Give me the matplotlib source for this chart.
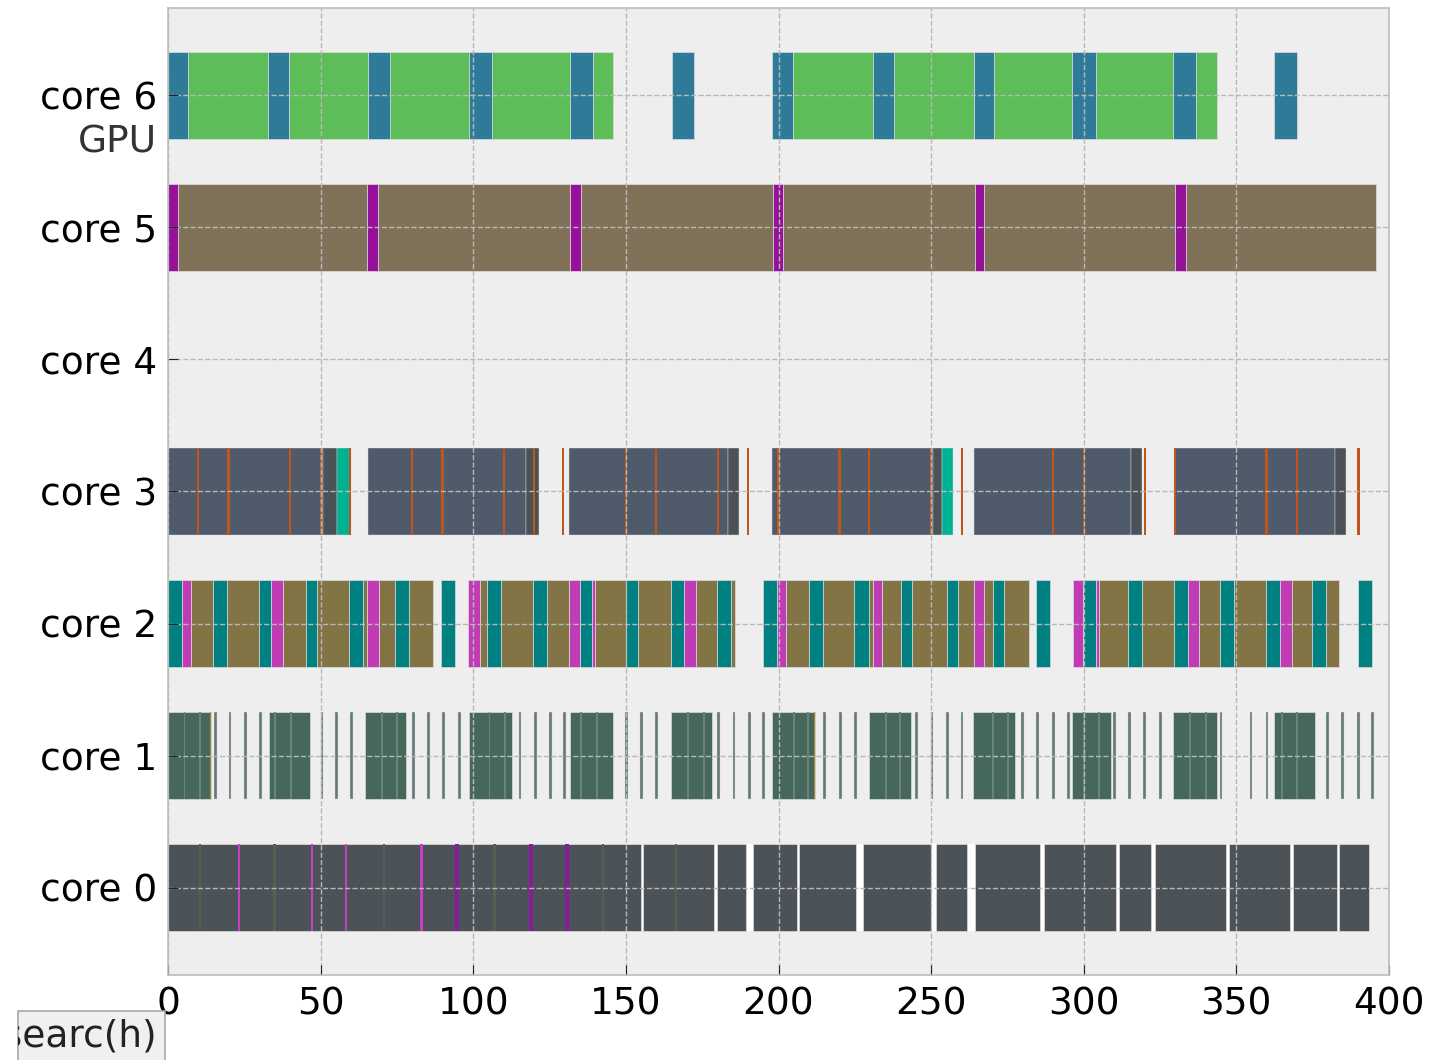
import matplotlib
matplotlib.use("Agg")
import matplotlib.pyplot as plt
from matplotlib.patches import Rectangle
from matplotlib.transforms import blended_transform_factory

plt.style.use("bmh")

core_labels = ["core 0", "core 1", "core 2", "core 3", "core 4", "core 5", "core 6"]

# core 6 (GPU): (start, duration)
gpu_copy = [(0, 6.4), (32.9, 6.8), (65.4, 7.3), (98.6, 7.4), (131.6, 7.5), (165.0, 7.3),
            (197.9, 6.9), (231.0, 6.7), (264.0, 6.6), (296.3, 7.6), (329.4, 7.4), (362.3, 7.5)]
gpu_kernel = [(6.4, 26.5), (39.7, 25.7), (72.7, 25.9), (106.0, 25.6), (139.1, 6.8),
              (204.8, 26.2), (237.7, 26.3), (270.6, 25.7), (303.9, 25.5), (336.8, 6.8)]

# core 5
c5_sync = [(0, 3.4), (65.2, 3.6), (131.7, 3.6), (198.2, 3.4), (264.4, 3.0), (329.9, 3.6)]
c5_main = [(3.4, 61.8), (68.8, 62.9), (135.3, 62.9), (201.6, 62.8), (267.4, 62.5), (333.5, 62.2)]

# core 3
c3_work = [(0, 50.6), (65.4, 51.8), (131.5, 51.8), (197.8, 52.9), (264.2, 51.2), (329.7, 52.6)]
c3_tail = [(50.6, 4.9), (117.2, 4.4), (183.3, 3.9), (250.7, 2.7), (315.4, 3.6), (382.3, 3.6)]
c3_flush = [(55.5, 4.3), (253.4, 3.9)]
c3_ticks = [9.9, 19.8, 40.0, 50.0, 59.7, 80.0, 89.9, 110.1, 119.9, 129.5, 150.0, 159.9,
            180.1, 189.9, 200.0, 220.0, 229.7, 250.0, 260.0, 290.0, 300.0, 320.1, 330.0,
            359.9, 369.8, 390.0]

# core 2
c2_io = [(0, 4.5), (14.8, 4.6), (29.9, 3.8), (45.1, 3.6), (59.4, 4.6), (74.5, 4.3), (89.4, 4.5),
         (104.4, 4.6), (119.4, 4.7), (134.9, 4.1), (150.0, 4.1), (164.7, 4.4), (179.7, 4.6),
         (194.8, 4.6), (209.9, 4.6), (224.8, 4.7), (240.0, 3.8), (255.1, 3.8), (270.2, 3.7),
         (284.4, 4.5), (299.6, 4.4), (314.4, 4.6), (329.6, 4.4), (344.6, 4.6), (359.7, 4.6),
         (374.7, 4.6), (389.7, 4.6)]
c2_irq = [(4.5, 2.9), (33.7, 3.8), (65.3, 3.8), (98.4, 3.8), (131.5, 3.4), (139.0, 0.9),
          (169.1, 3.9), (199.4, 3.0), (230.8, 3.2), (264.2, 3.1), (296.4, 3.2), (304.0, 0.9),
          (334.0, 3.9), (364.3, 3.8)]
c2_calc = [(7.4, 7.4), (19.4, 10.5), (37.5, 7.6), (48.7, 10.7), (64.0, 1.3), (69.1, 5.4),
           (78.8, 8.1), (102.2, 2.2), (109.0, 10.4), (124.1, 7.4), (139.9, 10.1), (154.1, 10.6),
           (173.0, 6.7), (184.3, 1.4), (202.4, 7.5), (214.5, 10.3), (229.5, 1.3), (234.0, 6.0),
           (243.8, 11.3), (258.9, 5.3), (267.3, 2.9), (273.9, 8.3), (304.9, 9.5), (319.0, 10.6),
           (337.9, 6.7), (349.2, 10.5), (368.1, 6.6), (379.3, 4.4)]

# core 1
c1_blocks = [(0, 14.2), (33.2, 13.3), (64.6, 13.5), (98.5, 14.3), (131.7, 14.1), (164.8, 13.4),
             (197.9, 14.0), (229.5, 14.0), (263.8, 13.6), (296.1, 12.9), (329.3, 14.2), (362.4, 13.4)]
c1_marks = [5.4, 10.5, 35.1, 40.3, 70.1, 75.0, 105.3, 110.4, 135.4, 140.6, 170.3, 175.5,
            205.0, 209.6, 235.1, 239.9, 270.3, 275.2, 300.0, 305.0, 334.9, 340.1, 365.0, 369.8]
c1_edges = [13.9, 211.7]
c1_polls = [15.5, 20.3, 25.3, 30.2, 50.4, 55.2, 60.2, 80.4, 85.3, 90.2, 95.5, 115.3, 120.3,
            125.3, 130.0, 150.3, 155.2, 160.1, 180.4, 185.4, 190.4, 195.2, 215.0, 220.3, 225.2,
            245.1, 250.3, 255.3, 260.1, 280.0, 284.9, 290.1, 295.0, 310.1, 314.9, 320.0, 325.1,
            345.0, 354.8, 360.0, 379.8, 384.8, 390.1, 394.7]

# core 0
c0_span = [(0, 393.4)]
c0_tasks = [(0, 154.8), (155.7, 23.3), (179.8, 9.7), (191.7, 14.4), (206.7, 18.7), (227.7, 22.3),
            (251.6, 10.1), (264.4, 21.3), (287.0, 23.6), (311.5, 10.5), (323.3, 23.3),
            (347.6, 20.0), (368.5, 14.5), (383.6, 9.8)]
c0_pink = [23.2, 47.2, 58.4, 83.0]
c0_purple = [94.6, 119.0, 130.6]
c0_faint = [10.5, 34.9, 70.7, 106.9, 142.5, 166.5]

H = 0.66

fig = plt.figure(figsize=(14.34, 10.6), dpi=100)
ax = fig.add_axes([0.1172, 0.0802, 0.8514, 0.9123])


def bars(row, spans, color, lw=0.5):
    ax.broken_barh(spans, (row - H / 2, H), facecolors=color,
                   edgecolor="#dcdcdc", linewidth=lw)


def strokes(row, xs, width, color):
    ax.broken_barh([(x - width / 2, width) for x in xs], (row - H / 2, H),
                   facecolors=color, linewidth=0)


# core 0
bars(0, c0_span, "white", lw=0)
bars(0, c0_tasks, "#4b5258")
strokes(0, c0_faint, 0.8, "#56604f")
strokes(0, c0_pink, 0.75, "#c93dc6")
strokes(0, c0_purple, 1.3, "#8b1a9b")

# core 1
bars(1, c1_blocks, "#46685a")
strokes(1, c1_marks, 0.6, "#6c8080")
strokes(1, c1_edges, 0.35, "#a8852e")
bars(1, [(x - 0.45, 0.9) for x in c1_polls], "#637878", lw=0.3)

# core 2
bars(2, c2_calc, "#837445")
bars(2, c2_io, "#008080")
bars(2, c2_irq, "#c03cb4")

# core 3
bars(3, c3_work, "#4f5b6a", lw=0.3)
bars(3, c3_tail, "#4b5257", lw=0.3)
bars(3, c3_flush, "#00b294", lw=0.3)
strokes(3, c3_ticks, 0.75, "#c0561c")

# core 5
bars(5, c5_main, "#7f7259")
bars(5, c5_sync, "#96109a")

# core 6
bars(6, gpu_kernel, "#5dbd58")
bars(6, gpu_copy, "#2e7b99")

ax.set_xlim(0, 400)
ax.set_ylim(-0.66, 6.66)
ax.set_yticks(range(len(core_labels)))
ax.set_yticklabels(core_labels)
ax.set_xticks(range(0, 401, 50))
ax.tick_params(axis="both", direction="in", labelsize=27, pad=8, length=7,
               colors="#222222", labelcolor="black")
ax.grid(True, linestyle="--", color="#b8b8b8", linewidth=1.0)
for sp in ax.spines.values():
    sp.set_color("#bcbcbc")
    sp.set_linewidth(1.2)

trans = blended_transform_factory(ax.transAxes, ax.transData)
ax.text(-0.009, 5.64, "GPU", transform=trans, ha="right", va="center",
        fontsize=27, color="#333333")

# clipped label box in the lower-left corner
box = Rectangle((18 / 1434, -0.01), 147 / 1434, 60 / 1060, transform=fig.transFigure,
                facecolor="#f0f0f0", edgecolor="#a8a8a8", linewidth=1.2)
fig.add_artist(box)
t = fig.text(157 / 1434, 23 / 1060, "researc(h)", ha="right", va="center",
             fontsize=27, color="#222222")
t.set_clip_path(box)

fig.savefig("out.png", dpi=100)
